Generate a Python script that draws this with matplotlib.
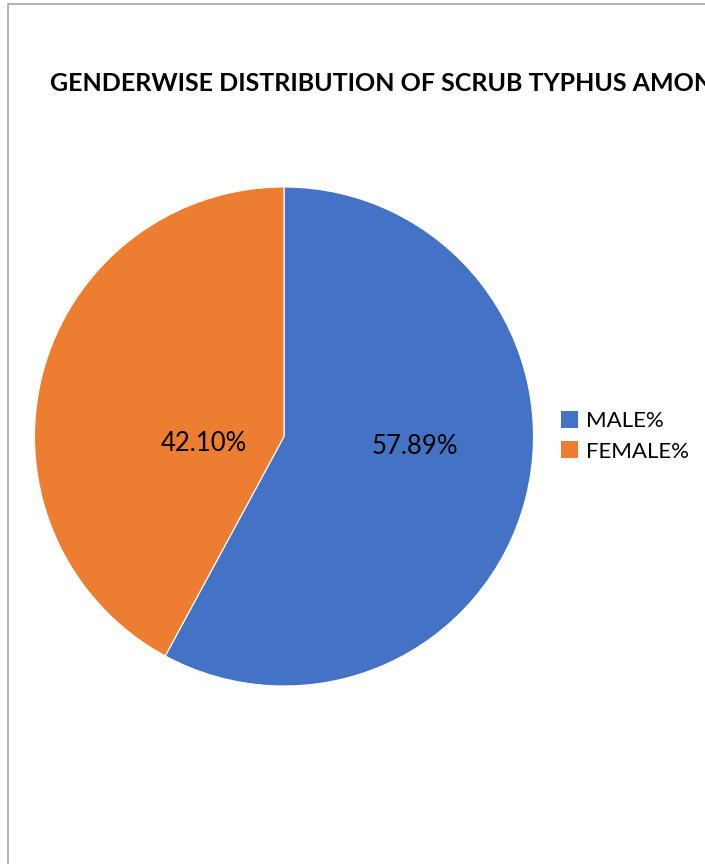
import matplotlib.pyplot as plt
from matplotlib.patches import Rectangle, Patch

# data
labels = ['MALE%', 'FEMALE%']
values = [57.89, 42.10]
colors = ['#4472C4', '#ED7D31']
title = 'GENDERWISE DISTRIBUTION OF SCRUB TYPHUS AMONG'

plt.rcParams['font.family'] = ['Lato', 'DejaVu Sans']

W, H = 705, 864
fig = plt.figure(figsize=(W / 100, H / 100), dpi=100)

# chart border (only left/top visible, rest is cropped)
fig.patches.append(Rectangle((7.5 / W, -0.1), 1.2, (H - 3.5) / H + 0.1,
                             transform=fig.transFigure, fill=False,
                             edgecolor='#a6a6a6', linewidth=1.2))

fig.text(50 / W, (H - 91) / H, title, fontsize=18, fontweight='bold',
         color='black', ha='left', va='baseline')

cx, cy, r = 284, 436.5, 249.5
ax = fig.add_axes([(cx - r) / W, (H - cy - r) / H, 2 * r / W, 2 * r / H])
wedges, _ = ax.pie(values, colors=colors, startangle=90, counterclock=False,
                   radius=1, wedgeprops=dict(edgecolor='white', linewidth=0.8))
ax.set_xlim(-1, 1)
ax.set_ylim(-1, 1)
ax.set_aspect('equal')
ax.axis('off')

# data labels
label_pos = [(0.526, -0.042), (-0.322, -0.030)]
for v, (x, y) in zip(values, label_pos):
    ax.text(x, y, f'{v:.2f}%', ha='center', va='center', fontsize=18.5,
            color='black')

handles = [Patch(facecolor=c, edgecolor='none') for c in colors]
fig.legend(handles, labels, loc='center left',
           bbox_to_anchor=(560.5 / W, (H - 436.3) / H), frameon=False,
           fontsize=16, handlelength=0.8, handleheight=0.8,
           handletextpad=0.35, labelspacing=0.45, borderaxespad=0,
           borderpad=0)

fig.savefig('out.png', dpi=100)
